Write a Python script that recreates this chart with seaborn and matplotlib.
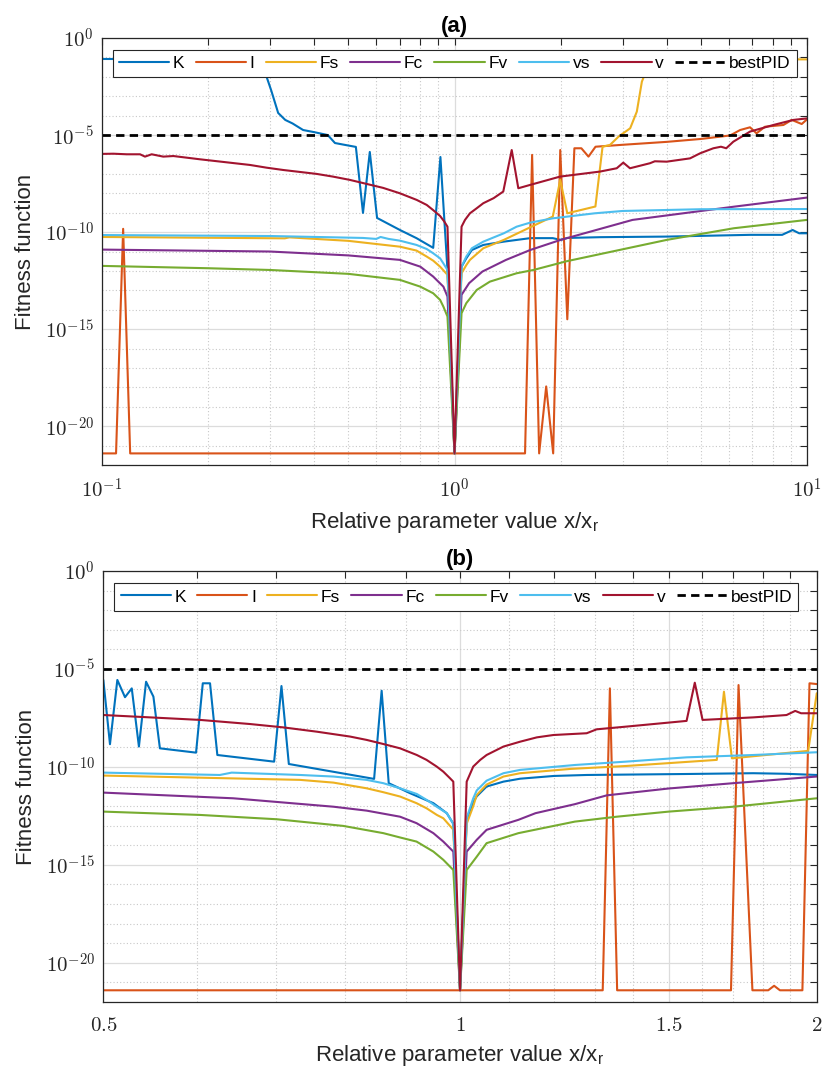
import numpy as np
import pandas as pd
import matplotlib
matplotlib.use("Agg")
import matplotlib.pyplot as plt
from matplotlib.lines import Line2D
from matplotlib.ticker import NullFormatter
import seaborn as sns

# ---------------- data (log10 of fitness value) ----------------
params = ["K", "I", "Fs", "Fc", "Fv", "vs", "v"]
colors = ["#0072BD", "#D95319", "#EDB120", "#7E2F8E", "#77AC30", "#4DBEEE", "#A2142F"]
best_pid = 1e-5

# ---- panel (a): x from 0.1 to 10 ----
K_a_x = [0.1, 0.2, 0.275, 0.288, 0.302, 0.316, 0.331, 0.347, 0.372, 0.40, 0.437, 0.458, 0.49, 0.525,
         0.55, 0.575, 0.603, 0.70, 0.78, 0.87, 0.912, 0.955, 1.0, 1.047, 1.08, 1.12, 1.207, 1.38, 1.64,
         1.9, 2.0, 2.09, 2.6, 4.0, 6.9, 8.5, 9.1, 9.5, 10.0]
K_a_y = [-1.08, -1.09, -1.1, -1.6, -2.7, -3.86, -4.22, -4.4, -4.74, -4.85, -5.0, -5.41, -5.51, -5.61,
         -9.01, -5.87, -9.27, -9.89, -10.31, -10.81, -6.13, -11.95, -21.4, -11.78, -11.35, -10.92, -10.66,
         -10.49, -10.31, -10.31, -10.4, -10.3, -10.26, -10.23, -10.14, -10.14, -9.89, -10.06, -10.06]

I_a_x = [0.1, 0.1096, 0.1148, 0.1202, 1.585, 1.66, 1.738, 1.82, 1.905, 1.995, 2.089, 2.188, 2.29, 2.399,
         2.512, 3.0, 4.0, 5.0, 6.05, 6.46, 6.89, 7.19, 7.6, 8.57, 9.05, 9.66, 10.0]
I_a_y = [-21.4, -21.4, -9.83, -21.4, -21.4, -6.02, -21.4, -17.95, -21.4, -5.77, -14.49, -5.68, -5.68, -6.11,
         -5.6, -5.5, -5.35, -5.2, -5.02, -4.74, -4.6, -4.91, -4.57, -4.48, -4.22, -4.43, -4.19]

Fs_a_x = [0.1, 0.33, 0.34, 0.5, 0.7, 0.78, 0.834, 0.87, 0.91, 0.955, 1.0, 1.047, 1.08, 1.106, 1.207,
          1.38, 1.64, 1.9, 1.995, 2.089, 2.51, 2.63, 2.76, 2.92, 3.15, 3.29, 3.4, 3.6, 10.0]
Fs_a_y = [-10.25, -10.32, -10.27, -10.45, -10.75, -10.95, -11.26, -11.47, -11.78, -12.2, -21.4, -12.12,
          -11.7, -11.43, -10.83, -10.4, -9.75, -9.2, -7.31, -9.03, -8.68, -5.6, -5.51, -5.08, -4.65, -3.79,
          -2.25, -1.1, -1.1]

Fc_a_x = [0.1, 0.3, 0.5, 0.7, 0.8, 0.87, 0.93, 0.955, 1.0, 1.047, 1.1, 1.2, 1.4, 1.64, 2.0, 3.2, 6.2, 10.0]
Fc_a_y = [-10.9, -11.0, -11.2, -11.43, -11.78, -12.29, -12.81, -13.32, -21.4, -13.23, -12.63, -12.03,
          -11.43, -10.92, -10.4, -9.37, -8.69, -8.22]

Fv_a_x = [0.1, 0.2, 0.3, 0.5, 0.7, 0.8, 0.87, 0.91, 0.93, 0.955, 1.0, 1.047, 1.08, 1.156, 1.26, 1.5,
          1.674, 2.08, 4.0, 6.2, 10.0]
Fv_a_y = [-11.74, -11.86, -11.95, -12.15, -12.46, -12.81, -13.15, -13.49, -13.84, -14.35, -21.4, -14.18,
          -13.66, -12.98, -12.55, -12.12, -11.95, -11.5, -10.4, -9.8, -9.37]

vs_a_x = [0.1, 0.3, 0.55, 0.6, 0.617, 0.65, 0.7, 0.78, 0.834, 0.87, 0.91, 0.929, 0.955, 1.0, 1.047, 1.08,
          1.12, 1.207, 1.38, 1.5, 1.64, 1.9, 2.5, 3.0, 5.0, 10.0]
vs_a_y = [-10.15, -10.2, -10.3, -10.35, -10.25, -10.35, -10.44, -10.66, -10.87, -11.09, -11.35, -11.6,
          -11.95, -21.4, -11.78, -11.26, -10.83, -10.49, -10.06, -9.72, -9.51, -9.29, -9.03, -8.91, -8.82,
          -8.81]

v_a_x = [0.1, 0.1077, 0.1175, 0.1282, 0.1324, 0.1383, 0.1492, 0.1594, 0.19, 0.263, 0.293, 0.327, 0.406,
         0.452, 0.505, 0.627, 0.7, 0.781, 0.834, 0.869, 0.91, 0.935, 0.955, 1.0, 1.047, 1.071, 1.106, 1.156,
         1.207, 1.291, 1.375, 1.453, 1.517, 1.637, 1.992, 2.587, 2.885, 3.011, 3.146, 3.586, 3.7, 3.999,
         4.657, 4.973, 5.423, 5.7, 5.9, 6.18, 6.893, 8.027, 9.146, 10.0]
v_a_y = [-5.97, -5.96, -5.99, -5.99, -6.11, -5.99, -6.11, -6.08, -6.25, -6.54, -6.68, -6.8, -7.0, -7.14,
         -7.31, -7.72, -8.0, -8.34, -8.6, -8.86, -9.17, -9.45, -9.72, -21.4, -9.72, -9.37, -9.03, -8.77,
         -8.51, -8.25, -7.91, -5.77, -7.74, -7.57, -7.14, -6.88, -6.71, -6.42, -6.71, -6.45, -6.35, -6.37,
         -6.2, -5.94, -5.68, -5.6, -5.68, -5.34, -4.82, -4.48, -4.22, -4.14]

# ---- panel (b): x from 0.5 to 2 ----
K_b_x = [0.5, 0.5065, 0.5138, 0.5215, 0.5284, 0.5358, 0.5433, 0.5511, 0.5581, 0.5987, 0.6066, 0.6152, 0.624,
         0.6968, 0.7068, 0.717, 0.8462, 0.8587, 0.8706, 0.9074, 0.9495, 0.9746, 0.987, 1.0, 1.013, 1.026,
         1.033, 1.053, 1.088, 1.124, 1.2, 1.279, 1.553, 1.768, 1.886, 2.0]
K_b_y = [-5.56, -8.84, -5.56, -6.44, -5.99, -8.96, -5.65, -6.41, -9.05, -9.27, -5.73, -5.73, -9.39, -9.73,
         -5.87, -9.85, -10.61, -6.11, -10.83, -11.34, -11.85, -12.36, -12.9, -21.4, -12.7, -11.8, -11.5,
         -11.0, -10.75, -10.6, -10.46, -10.41, -10.36, -10.32, -10.35, -10.41]

I_b_x = [0.5, 1.3195, 1.338, 1.357, 1.693, 1.718, 1.765, 1.820, 1.841, 1.862, 1.945, 1.972, 2.0]
I_b_y = [-21.4, -21.4, -5.99, -21.4, -21.4, -5.82, -21.4, -21.4, -21.17, -21.4, -21.4, -5.73, -5.77]

Fs_b_x = [0.5, 0.7328, 0.782, 0.834, 0.8616, 0.89, 0.919, 0.937, 0.956, 0.968, 0.987, 1.0, 1.013, 1.026,
          1.033, 1.053, 1.088, 1.124, 1.24, 1.382, 1.647, 1.67, 1.696, 1.967, 2.0]
Fs_b_y = [-10.44, -10.66, -10.8, -11.09, -11.29, -11.51, -11.85, -12.11, -12.45, -12.62, -13.2, -21.4,
          -12.9, -12.0, -11.43, -10.9, -10.49, -10.32, -10.1, -9.95, -9.64, -6.16, -9.56, -9.18, -6.24]

Fc_b_x = [0.5, 0.6436, 0.782, 0.834, 0.89, 0.919, 0.9495, 0.968, 0.987, 1.0, 1.013, 1.033, 1.053, 1.12,
          1.158, 1.25, 1.33, 1.5, 1.7, 2.0]
Fc_b_y = [-11.31, -11.6, -12.03, -12.23, -12.54, -12.87, -13.38, -13.81, -14.32, -21.4, -14.32, -13.72,
          -13.21, -12.7, -12.36, -11.9, -11.45, -11.1, -10.83, -10.49]

Fv_b_x = [0.5, 0.6035, 0.7003, 0.797, 0.8616, 0.89, 0.919, 0.9495, 0.968, 0.987, 1.0, 1.013, 1.033, 1.053,
          1.12, 1.158, 1.25, 1.356, 1.5, 1.701, 2.0]
Fv_b_y = [-12.28, -12.45, -12.67, -13.01, -13.38, -13.6, -13.81, -14.32, -14.74, -15.26, -21.4, -15.26,
          -14.58, -13.89, -13.38, -13.2, -12.79, -12.54, -12.28, -12.03, -11.6]

vs_b_x = [0.5, 0.627, 0.6416, 0.7328, 0.782, 0.834, 0.8616, 0.89, 0.9194, 0.937, 0.9556, 0.9746, 0.987,
          1.0, 1.013, 1.026, 1.033, 1.053, 1.088, 1.124, 1.25, 1.38, 1.553, 1.768, 2.0]
vs_b_y = [-10.29, -10.41, -10.29, -10.41, -10.49, -10.66, -10.83, -11.09, -11.38, -11.68, -12.03, -12.36,
          -12.9, -21.4, -12.6, -11.6, -11.2, -10.7, -10.32, -10.15, -9.9, -9.73, -9.51, -9.39, -9.25]

v_b_x = [0.5, 0.5475, 0.6035, 0.665, 0.7091, 0.757, 0.8077, 0.834, 0.8616, 0.89, 0.9194, 0.937, 0.9556,
         0.968, 0.9808, 0.987, 1.0, 1.013, 1.026, 1.04, 1.053, 1.088, 1.124, 1.161, 1.199, 1.279, 1.304,
         1.382, 1.553, 1.578, 1.602, 1.768, 1.886, 1.918, 1.94, 2.0]
v_b_y = [-7.35, -7.47, -7.6, -7.81, -7.98, -8.2, -8.45, -8.62, -8.83, -9.05, -9.39, -9.64, -9.98, -10.24,
         -10.58, -10.75, -21.4, -10.75, -9.98, -9.64, -9.39, -8.96, -8.71, -8.49, -8.37, -8.28, -8.08, -7.94,
         -7.65, -5.7, -7.6, -7.47, -7.35, -7.14, -7.26, -7.26]

panel_a = {"K": (K_a_x, K_a_y), "I": (I_a_x, I_a_y), "Fs": (Fs_a_x, Fs_a_y), "Fc": (Fc_a_x, Fc_a_y),
           "Fv": (Fv_a_x, Fv_a_y), "vs": (vs_a_x, vs_a_y), "v": (v_a_x, v_a_y)}
panel_b = {"K": (K_b_x, K_b_y), "I": (I_b_x, I_b_y), "Fs": (Fs_b_x, Fs_b_y), "Fc": (Fc_b_x, Fc_b_y),
           "Fv": (Fv_b_x, Fv_b_y), "vs": (vs_b_x, vs_b_y), "v": (v_b_x, v_b_y)}


def to_long(panel):
    frames = []
    for name in params:
        xs, ly = panel[name]
        frames.append(pd.DataFrame({"x": xs, "fitness": np.power(10.0, ly), "param": name}))
    return pd.concat(frames, ignore_index=True)


# ---------------- style ----------------
sns.set_theme(style="white")
plt.rcParams["font.family"] = ["Liberation Sans", "DejaVu Sans"]
plt.rcParams["mathtext.fontset"] = "cm"
plt.rcParams["axes.edgecolor"] = "#262626"
plt.rcParams["axes.linewidth"] = 0.9

fig = plt.figure(figsize=(8.24, 10.77), dpi=100)
ax_a = fig.add_axes([0.1238, 0.5682, 0.8556, 0.3965])
ax_b = fig.add_axes([0.1254, 0.0696, 0.8658, 0.4002])

palette = dict(zip(params, colors))

ytick_major = [1e-20, 1e-15, 1e-10, 1e-5, 1e0]
ytick_labels = [r"$10^{-20}$", r"$10^{-15}$", r"$10^{-10}$", r"$10^{-5}$", r"$10^{0}$"]
ytick_minor = [10.0 ** k for k in range(-22, 1) if k % 5 != 0]

setups = [
    (ax_a, panel_a, "(a)", (0.1, 10), [0.1, 1, 10], [r"$10^{-1}$", r"$10^{0}$", r"$10^{1}$"],
     [0.2, 0.3, 0.4, 0.5, 0.6, 0.7, 0.8, 0.9, 2, 3, 4, 5, 6, 7, 8, 9], 9),
    (ax_b, panel_b, "(b)", (0.5, 2), [0.5, 1, 1.5, 2], [r"$0.5$", r"$1$", r"$1.5$", r"$2$"],
     [0.6, 0.7, 0.8, 0.9, 1.1, 1.2, 1.3, 1.4, 1.6, 1.7, 1.8, 1.9], 10),
]

for ax, panel, title, xlim, xt, xtl, xminor, xpad in setups:
    df = to_long(panel)
    sns.lineplot(data=df, x="x", y="fitness", hue="param", hue_order=params, palette=palette,
                 estimator=None, sort=False, linewidth=1.5, legend=False, ax=ax)
    ax.axhline(best_pid, color="black", linestyle="--", linewidth=2.0, dashes=(3.0, 1.9))
    ax.set_xscale("log")
    ax.set_yscale("log")
    ax.set_xlim(*xlim)
    ax.set_ylim(1e-22, 1e0)
    ax.set_xticks(xt)
    ax.set_xticklabels(xtl)
    ax.set_xticks(xminor, minor=True)
    ax.xaxis.set_minor_formatter(NullFormatter())
    ax.set_yticks(ytick_major)
    ax.set_yticklabels(ytick_labels)
    ax.set_yticks(ytick_minor, minor=True)
    ax.yaxis.set_minor_formatter(NullFormatter())
    ax.grid(which="major", color="#dcdcdc", linewidth=0.9, linestyle="-")
    ax.grid(which="minor", color="#c8c8c8", linewidth=0.8, linestyle=(0, (1, 2)))
    ax.set_axisbelow(True)
    ax.tick_params(which="both", direction="in", top=True, right=True, length=5, width=0.8,
                   color="#262626", labelcolor="#262626", labelsize=15)
    ax.tick_params(axis="x", which="major", pad=xpad)
    ax.tick_params(axis="y", which="major", pad=6)
    for s in ax.spines.values():
        s.set_visible(True)
        s.set_color("#262626")
    ax.set_xlabel(r"Relative parameter value x/x$_{\mathregular{r}}$", fontsize=16, color="#262626",
                  labelpad=6)
    ax.set_ylabel("Fitness function", fontsize=16, color="#262626", labelpad=6)
    ax.set_title(title, fontsize=16, fontweight="bold", pad=4, color="black")

    handles = [Line2D([], [], color=c, lw=1.5) for c in colors]
    handles.append(Line2D([], [], color="black", lw=2.0, linestyle="--", dashes=(3.0, 1.9)))
    labels = params + ["bestPID"]
    leg = ax.legend(handles, labels, ncol=8, loc="upper left", bbox_to_anchor=(0.0156, 0.9715),
                    fontsize=12.5, frameon=True, fancybox=False, framealpha=1.0, edgecolor="#262626",
                    handlelength=2.9, handletextpad=0.2, columnspacing=0.65, borderpad=0.35,
                    borderaxespad=0.0)
    leg.get_frame().set_linewidth(0.8)
    for t in leg.get_texts():
        t.set_color("black")

fig.savefig("out.png", dpi=100)
